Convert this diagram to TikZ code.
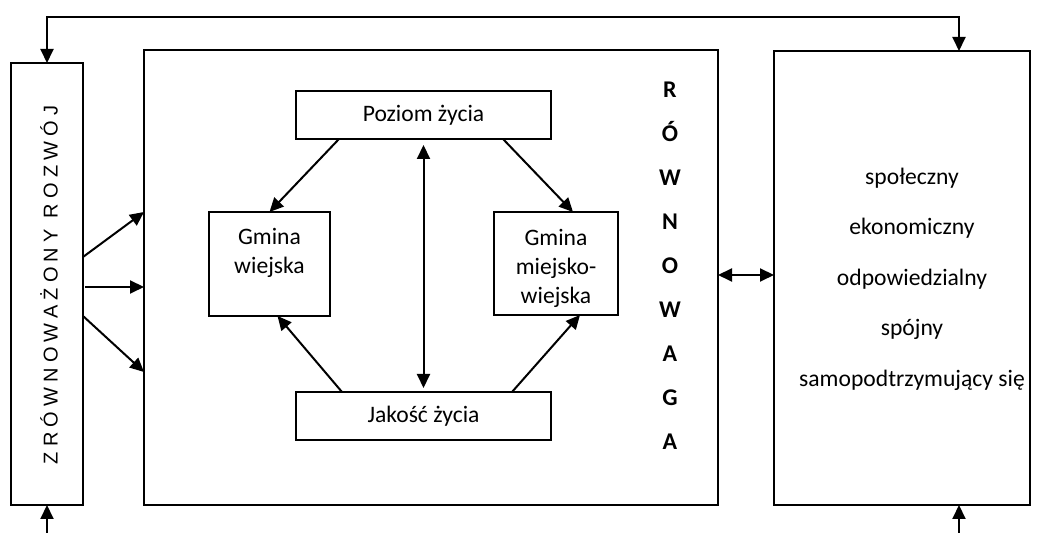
\documentclass[tikz,border=0pt]{standalone}
\usepackage{fontspec}
\setmainfont{Carlito}
\newfontfamily\arialfont[LetterSpace=26]{Liberation Sans}
\usetikzlibrary{positioning,calc,arrows.meta}

\begin{document}
\begin{tikzpicture}[x=0.5pt,y=-0.5pt,
  box/.style={draw,line width=0.8pt,inner sep=0pt,outer sep=0pt},
  arr/.style={line width=1pt,-{Triangle[length=7pt,width=6.5pt]}},
  dwa/.style={line width=1pt,{Triangle[length=7pt,width=6.5pt]}-{Triangle[length=7pt,width=6.5pt]}},
  txt/.style={font=\fontsize{11.8}{14.5}\selectfont,align=center,inner sep=0pt}]
\useasboundingbox (0,0) rectangle (1040,533);
\node[box,minimum width=36pt,minimum height=221pt] (zr) at (47,284) {};
\node[box,minimum width=287pt,minimum height=227.5pt] (glowny) at (431,277.5) {};
\node[box,minimum width=128pt,minimum height=227pt] (prawy) at (902,278) {};
\node[box,minimum width=127.5pt,minimum height=24pt] (poziom) at (423.5,115) {};
\node[box,minimum width=127.5pt,minimum height=24pt] (jakosc) at (423.5,416) {};
\node[box,minimum width=60.5pt,minimum height=52pt] (gw) at (269.5,264) {};
\node[box,minimum width=62pt,minimum height=51.5pt] (gmw) at (556,263.5) {};
\node[txt] (poziomt) at (poziom) {Poziom życia};
\node[txt] (jakosct) at (jakosc) {Jakość życia};
\node[txt] (gwt) at (269.5,252.5) {Gmina\\wiejska};
\node[txt] (gmwt) at (556,268) {Gmina\\miejsko-\\wiejska};
\node[txt,font=\bfseries\fontsize{12}{22}\selectfont] (rown) at (670,265.5) {R\\Ó\\W\\N\\O\\W\\A\\G\\A};
\node[txt,font=\fontsize{11.8}{25.25}\selectfont] (cechy) at (912,279) {społeczny\\ekonomiczny\\odpowiedzialny\\spójny\\samopodtrzymujący się};
\node[rotate=90,inner sep=0pt,font=\arialfont\fontsize{10}{12}\selectfont] (zrt) at (49,285) {ZRÓWNOWAŻONY ROZWÓJ};
\coordinate (gora) at (0,17);
\coordinate (pw) at ($(prawy.north)+(57,0)$);
\coordinate (dl) at (47,533);
\coordinate (dp) at (959,533);
\draw[dwa] (zr.north) -- (zr.north |- gora) -- (pw |- gora) -- (pw);
\draw[arr] (dl) -- (zr.south);
\draw[arr] (dp) -- (pw |- prawy.south);
\draw[arr] ($(zr.east)+(0,-27)$) -- (glowny.west |- 0,212);
\draw[arr] ($(zr.east)+(2,3)$) -- (glowny.west |- 0,287);
\draw[arr] ($(zr.east)+(0,32)$) -- (glowny.west |- 0,372);
\draw[dwa] (glowny.east |- 0,275) -- (prawy.west |- 0,275);
\draw[dwa,shorten <=3pt,shorten >=2pt] (poziom.south) -- (jakosc.north);
\draw[arr] ($(poziom.south west)+(43,0)$) -- (gw.north);
\draw[arr] ($(poziom.south east)+(-48,0)$) -- ($(gmw.north)+(17,0)$);
\draw[arr] ($(jakosc.north west)+(46,0)$) -- ($(gw.south)+(8,0)$);
\draw[arr] ($(jakosc.north east)+(-39,0)$) -- ($(gmw.south)+(24,0)$);
\end{tikzpicture}
\end{document}
